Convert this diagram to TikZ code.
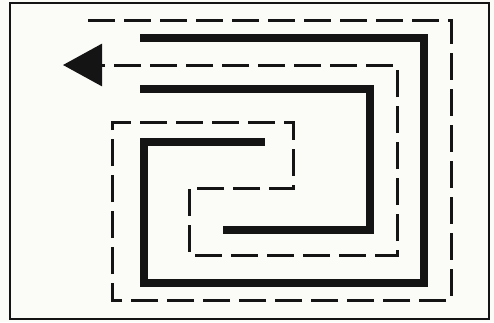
\documentclass[tikz,border=0pt]{standalone}
\usetikzlibrary{arrows.meta}
\definecolor{paper}{HTML}{FBFBF8}
\definecolor{ink}{HTML}{141414}

\begin{document}
\begin{tikzpicture}[x=1pt,y=-1pt,
  frame/.style={ink,line width=2pt},
  wall/.style={ink,line width=8pt,line join=miter},
  route/.style={ink,line width=3pt,dash pattern=on 27pt off 9pt},
  line join=miter]
\fill[paper] (0,0) rectangle (494,322);
\useasboundingbox (0,0) rectangle (494,322);
\draw[frame] (10,3) rectangle (489,319);
% two solid spirals
\draw[wall] (140,38) -- (424,38) -- (424,283) -- (144,283) -- (144,142) -- (265,142);
\draw[wall] (140,89) -- (370,89) -- (370,230) -- (223,230);
% dashed path out with arrow
\draw[route,-{Triangle[length=39pt,width=42pt]}]
  (88,20) -- (451,20) -- (451,300) -- (112,300) -- (112,122) -- (293,122)
  -- (293,188) -- (189,188) -- (189,255) -- (397,255) -- (397,65) -- (63,65);
\end{tikzpicture}
\end{document}
